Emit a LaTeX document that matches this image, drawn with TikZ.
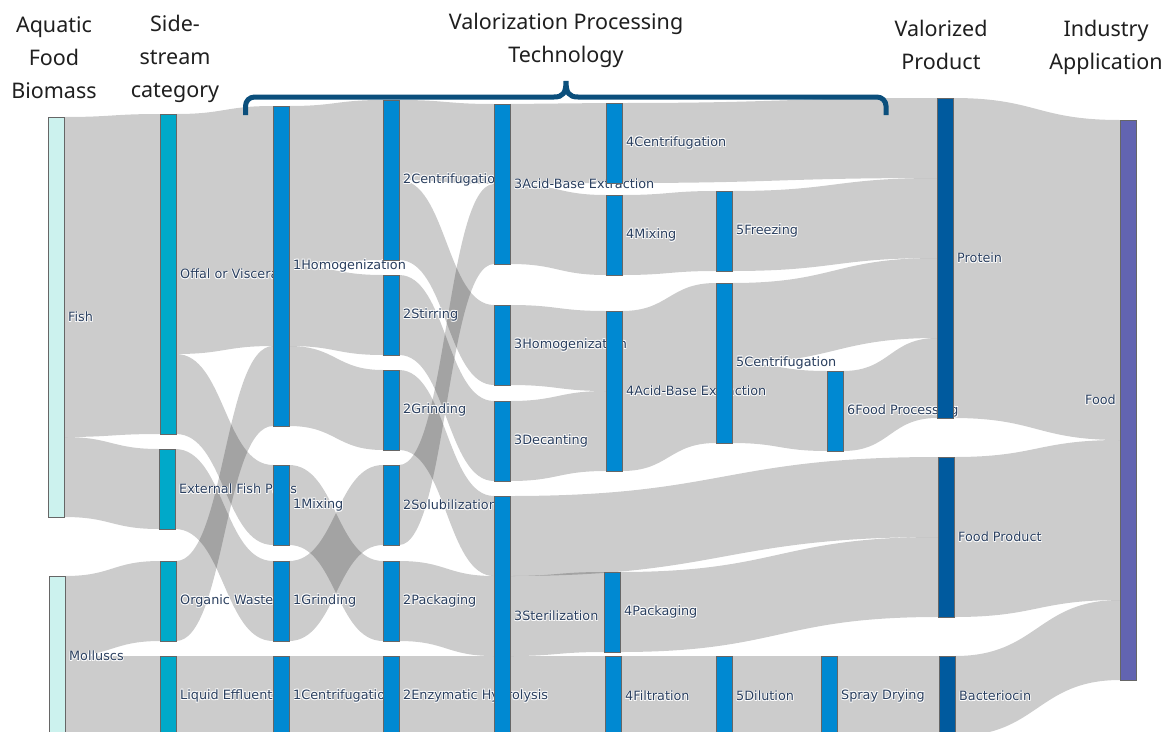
\documentclass[tikz,border=0pt]{standalone}
\usepackage{fontspec}
\newfontfamily\headfont{Noto Sans}
\newfontfamily\lblfont{DejaVu Sans}
\usetikzlibrary{calc, backgrounds}

\definecolor{biomassc}{RGB}{204,242,238}
\definecolor{sidec}{RGB}{0,169,201}
\definecolor{procc}{RGB}{0,137,210}
\definecolor{prodc}{RGB}{0,90,158}
\definecolor{appc}{RGB}{98,100,177}
\definecolor{bracec}{RGB}{11,79,124}
\definecolor{lblc}{RGB}{42,63,95}

% band from #1 (offset #2) to #3 (offset #4), thickness #5
\newcommand{\flow}[5]{%
  \path ($(#1.north east)+(0,#2)$) coordinate (fa)
        ($(#3.north west)+(0,#4)$) coordinate (fb)
        ($(fa)+(0,#5)$) coordinate (fc)
        ($(fb)+(0,#5)$) coordinate (fd)
        ($(fa)!.5!(fb)$) coordinate (fm);
  \fill[link] (fa) .. controls (fm |- fa) and (fm |- fb) .. (fb)
    -- (fd) .. controls (fm |- fd) and (fm |- fc) .. (fc) -- cycle;}

% white glow behind a label
\newcommand{\halo}[1]{%
  \makebox[0pt][l]{\hspace*{0.7pt}\raisebox{0.7pt}{\textcolor{white}{#1}}}%
  \makebox[0pt][l]{\hspace*{0.7pt}\raisebox{-0.7pt}{\textcolor{white}{#1}}}%
  \makebox[0pt][l]{\hspace*{-0.7pt}\raisebox{0.7pt}{\textcolor{white}{#1}}}%
  \makebox[0pt][l]{\hspace*{-0.7pt}\raisebox{-0.7pt}{\textcolor{white}{#1}}}%
  #1}

\begin{document}
\begin{tikzpicture}[
    x=1pt, y=-1pt,
    label distance=4pt,
    bar/.style     = {rectangle, draw=black!60, line width=0.5pt, minimum width=16pt,
                      minimum height=80pt, inner sep=0pt, outer sep=0pt,
                      anchor=north west},
    biomass/.style = {bar, fill=biomassc},
    side/.style    = {bar, fill=sidec},
    proc/.style    = {bar, fill=procc},
    prod/.style    = {bar, fill=prodc},
    app/.style     = {bar, fill=appc},
    lab/.style     = {label={east:\halo{#1}}},
    labw/.style    = {label={west:\halo{#1}}},
    link/.style    = {fill=black, fill opacity=0.2},
    bracket/.style = {draw=bracec, line width=5pt},
    hdr/.style     = {font={\headfont\fontsize{21.5}{33}\selectfont}, align=center,
                      inner sep=0pt, anchor=north, text=black!88},
    every label/.style = {font={\lblfont\fontsize{12.8}{15}\selectfont}, text=lblc,
                          inner sep=0pt}
  ]
  \useasboundingbox (0,0) rectangle (1164,731);

  % ── Headers ────────────────────────────────────────────────
  \node[hdr] (hbio)  at (54,16)     {Aquatic\\Food\\Biomass};
  \node[hdr] (hside) at (175,15)    {Side-\\stream\\category};
  \node[hdr] (hvpt)  at (566,13)    {Valorization Processing\\Technology};
  \node[hdr] (hprod) at (941,19.5)  {Valorized\\Product};
  \node[hdr] (happ)  at (1106,19.5) {Industry\\Application};

  \draw[bracket] (245.5,115) [rounded corners=9pt] -- (245.5,97) -- (400,97)
    [sharp corners] -- (554,97) .. controls (563,97) and (566,93) .. (566,81)
    .. controls (566,93) and (569,97) .. (578,97) -- (730,97)
    [rounded corners=9pt] -- (886,97) -- (886,115);

  % ── Column 0: biomass ──────────────────────────────────────
  \node[biomass, minimum height=400pt, lab=Fish]     (fish)    at (48,117) {};
  \node[biomass, minimum height=160pt, lab=Molluscs] (mollusc) at (49,576) {};

  % ── Column 1: side-stream ──────────────────────────────────
  \node[side, minimum height=320pt, lab=Offal or Viscera] (offal)    at (160,114) {};
  \node[side, lab=External Fish Parts]                    (extparts) at (159,449) {};
  \node[side, lab=Organic Waste]                          (orgwaste) at (160,561) {};
  \node[side, lab=Liquid Effluent]                        (liqeff)   at (160,656) {};

  % ── Column 2: step 1 ───────────────────────────────────────
  \node[proc, minimum height=320pt, lab=1Homogenization] (hom1)   at (273,106) {};
  \node[proc, lab=1Mixing]                               (mix1)   at (273,465) {};
  \node[proc, lab=1Grinding]                             (grind1) at (273,561) {};
  \node[proc, lab=1Centrifugation]                       (cent1)  at (273,656) {};

  % ── Column 3: step 2 ───────────────────────────────────────
  \node[proc, minimum height=160pt, lab=2Centrifugation] (cent2)  at (383,100) {};
  \node[proc, lab=2Stirring]                             (stir2)  at (383,275) {};
  \node[proc, lab=2Grinding]                             (grind2) at (383,370) {};
  \node[proc, lab=2Solubilization]                       (solub2) at (383,465) {};
  \node[proc, lab=2Packaging]                            (pack2)  at (383,561) {};
  \node[proc, lab=2Enzymatic Hydrolysis]                 (enz2)   at (383,656) {};

  % ── Column 4: step 3 ───────────────────────────────────────
  \node[proc, minimum height=160pt, lab=3Acid-Base Extraction] (acid3) at (494,104) {};
  \node[proc, lab=3Homogenization]                       (hom3)   at (494,305) {};
  \node[proc, lab=3Decanting]                            (dec3)   at (494,401) {};
  \node[proc, minimum height=240pt, lab=3Sterilization]  (ster3)  at (494,496) {};

  % ── Column 5: step 4 ───────────────────────────────────────
  \node[proc, lab=4Centrifugation]                       (cent4)  at (606,103) {};
  \node[proc, lab=4Mixing]                               (mix4)   at (606,195) {};
  \node[proc, minimum height=160pt, lab=4Acid-Base Extraction] (acid4) at (606,311) {};
  \node[proc, lab=4Packaging]                            (pack4)  at (604,572) {};
  \node[proc, lab=4Filtration]                           (filt4)  at (605,656) {};

  % ── Column 6: step 5 ───────────────────────────────────────
  \node[proc, lab=5Freezing]                             (freez5) at (716,191) {};
  \node[proc, minimum height=160pt, lab=5Centrifugation] (cent5)  at (716,283) {};
  \node[proc, lab=5Dilution]                             (dil5)   at (716,656) {};

  % ── Column 7: step 6 ───────────────────────────────────────
  \node[proc, lab=6Food Processing]                      (foodproc6) at (827,371) {};
  \node[proc, lab=Spray Drying]                          (spray)     at (821,656) {};

  % ── Column 8: products ─────────────────────────────────────
  \node[prod, minimum height=320pt, lab=Protein]         (protein)  at (937,98) {};
  \node[prod, minimum height=160pt, lab=Food Product]    (foodprod) at (938,457) {};
  \node[prod, lab=Bacteriocin]                           (bacterio) at (939,656) {};

  % ── Column 9: application ──────────────────────────────────
  \node[app, minimum height=560pt, labw=Food]            (food)     at (1120,120) {};

  % ── Links ──────────────────────────────────────────────────
  \begin{pgfonlayer}{background}
    \fill[white] (0,0) rectangle (1164,731);
    % biomass -> side-stream
    \flow{fish}{0}{offal}{0}{320}
    \flow{fish}{320}{extparts}{0}{80}
    \flow{mollusc}{0}{orgwaste}{0}{80}
    \flow{mollusc}{80}{liqeff}{0}{80}
    % side-stream -> step 1
    \flow{offal}{0}{hom1}{0}{240}
    \flow{offal}{240}{mix1}{0}{80}
    \flow{extparts}{0}{grind1}{0}{80}
    \flow{orgwaste}{0}{hom1}{240}{80}
    \flow{liqeff}{0}{cent1}{0}{80}
    % step 1 -> step 2
    \flow{hom1}{0}{cent2}{0}{160}
    \flow{hom1}{160}{stir2}{0}{80}
    \flow{hom1}{240}{grind2}{0}{80}
    \flow{mix1}{0}{pack2}{0}{80}
    \flow{grind1}{0}{solub2}{0}{80}
    \flow{cent1}{0}{enz2}{0}{80}
    % step 2 -> step 3
    \flow{cent2}{0}{acid3}{0}{80}
    \flow{cent2}{80}{hom3}{0}{80}
    \flow{stir2}{0}{dec3}{0}{80}
    \flow{grind2}{0}{ster3}{0}{80}
    \flow{solub2}{0}{acid3}{80}{80}
    \flow{pack2}{0}{ster3}{80}{80}
    \flow{enz2}{0}{ster3}{160}{80}
    % step 3 -> step 4
    \flow{acid3}{0}{cent4}{0}{80}
    \flow{acid3}{80}{mix4}{0}{80}
    \flow{hom3}{0}{acid4}{0}{80}
    \flow{dec3}{0}{acid4}{80}{80}
    \flow{ster3}{0}{foodprod}{0}{80}
    \flow{ster3}{80}{pack4}{0}{80}
    \flow{ster3}{160}{filt4}{0}{80}
    % step 4 -> step 5
    \flow{cent4}{0}{protein}{0}{80}
    \flow{mix4}{0}{freez5}{0}{80}
    \flow{acid4}{0}{cent5}{0}{160}
    \flow{pack4}{0}{foodprod}{80}{80}
    \flow{filt4}{0}{dil5}{0}{80}
    % step 5 -> step 6
    \flow{freez5}{0}{protein}{80}{80}
    \flow{cent5}{0}{protein}{160}{80}
    \flow{cent5}{80}{foodproc6}{0}{80}
    \flow{dil5}{0}{spray}{0}{80}
    % step 6 -> product
    \flow{foodproc6}{0}{protein}{240}{80}
    \flow{spray}{0}{bacterio}{0}{80}
    % product -> application
    \flow{protein}{0}{food}{0}{320}
    \flow{foodprod}{0}{food}{320}{160}
    \flow{bacterio}{0}{food}{480}{80}
  \end{pgfonlayer}

\end{tikzpicture}
\end{document}
